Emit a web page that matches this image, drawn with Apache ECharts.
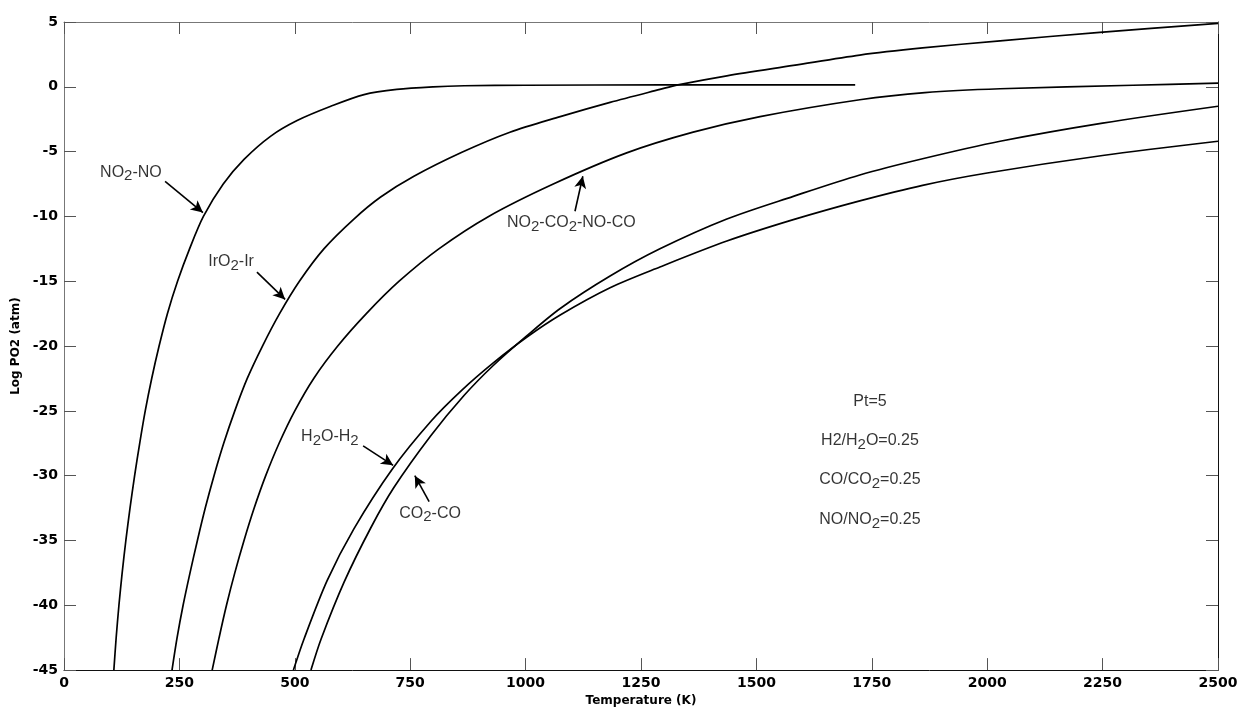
<!DOCTYPE html>
<html>
<head>
	<meta http-equiv="Content-Type" content="text/html; charset=utf-8" />
	<title>Log PO2</title>
	<script src="https://cdn.jsdelivr.net/npm/echarts@6/dist/echarts.min.js"></script>
</head>
<body style="padding: 0;margin: 0;background: #fff;">
<div id="main" style="width: 1247px;height:712px;"></div>

<script type="text/javascript">
	// curves: [temperature K, log PO2]
	var no2No = [[108,-45],[113,-42.5],[119,-40],[126,-37.5],[134,-35],[143,-32.5],[153,-30],[164,-27.5],[176,-25],[190,-22.5],[206,-20],[224,-17.5],[246,-15],[272,-12.5],[302,-10],[345,-7.5],[390,-5.6],[448,-3.8],[505,-2.6],[578,-1.5],[650,-0.6],[721,-0.2],[800,0],[867,0.08],[1000,0.12],[1300,0.15],[1714,0.15]];
	var iro2Ir = [[234,-45],[245,-42.5],[258,-40],[273,-37.5],[289,-35],[306,-32.5],[325,-30],[346,-27.5],[370,-25],[397,-22.5],[430,-20],[467,-17.5],[510,-15],[563,-12.5],[628,-10.2],[686,-8.5],[758,-6.9],[862,-5.05],[966,-3.5],[1075,-2.3],[1183,-1.2],[1291,-0.2],[1330,0.15],[1436,0.85],[1580,1.65],[1724,2.45],[1860,3.0],[2028,3.55],[2244,4.2],[2500,4.9]];
	var no2Co2NoCo = [[321,-45],[336,-42.5],[352,-40],[370,-37.5],[390,-35],[412,-32.5],[437,-30],[466,-27.5],[500,-25],[541,-22.5],[593,-20],[655,-17.5],[726,-15],[812,-12.5],[920,-10],[1060,-7.5],[1219,-5.1],[1363,-3.5],[1508,-2.3],[1724,-1.0],[1865,-0.45],[2028,-0.15],[2316,0.12],[2500,0.28]];
	var h2oH2 = [[497,-45],[520,-42.6],[570,-38.1],[628,-34.1],[711,-29.5],[795,-25.8],[862,-23.4],[930,-21.3],[1003,-19.3],[1075,-17.6],[1183,-15.5],[1291,-13.9],[1436,-11.9],[1580,-10.25],[1724,-8.8],[1860,-7.6],[2000,-6.65],[2250,-5.3],[2500,-4.2]];
	var co2Co = [[535,-45],[557,-42.6],[607,-38.2],[665,-34.0],[715,-30.9],[795,-26.9],[867,-23.8],[930,-21.5],[1003,-19.2],[1075,-17.1],[1183,-14.6],[1291,-12.5],[1436,-10.2],[1580,-8.45],[1724,-6.8],[1860,-5.55],[2028,-4.2],[2250,-2.8],[2500,-1.5]];

	// axis ticks
	var xTicks = { min: 0, max: 2500, step: 250 };
	var yTicks = { min: -45, max: 5, step: 5 };

	// text labels and the arrows pointing at the curves
	var labelText = ['NO{s|2}-NO', 'IrO{s|2}-Ir', 'NO{s|2}-CO{s|2}-NO-CO', 'H{s|2}O-H{s|2}', 'CO{s|2}-CO',
		'Pt=5', 'H2/H{s|2}O=0.25', 'CO/CO{s|2}=0.25', 'NO/NO{s|2}=0.25'];
	var labelAt = [[145,-6.6],[362,-13.5],[1099,-10.5],[576,-27.0],[793,-32.9],
		[1746,-24.3],[1746,-27.3],[1746,-30.3],[1746,-33.4]];
	var arrowFrom = [[219,-7.3],[418,-14.3],[1107,-9.6],[648,-27.7],[791,-32.0]];
	var arrowTo = [[301,-9.7],[479,-16.4],[1124,-6.9],[713,-29.2],[760,-30.0]];

	var myChart = echarts.init(document.getElementById('main'));

	var tickFont = { color: '#000', fontSize: 14, fontWeight: 'bold', fontFamily: 'DejaVu Sans' };
	var nameFont = { color: '#000', fontSize: 12, fontWeight: 'bold', fontFamily: 'DejaVu Sans' };

	function frameAxis(pos, range, lineColor, showLabel) {
		return {
			type: 'value',
			position: pos,
			min: range.min,
			max: range.max,
			interval: range.step,
			axisLine: { show: true, onZero: false, lineStyle: { color: lineColor, width: 1 } },
			axisTick: { show: true, inside: true, length: 12, lineStyle: { color: '#555', width: 1 } },
			axisLabel: showLabel ? Object.assign({
				show: true,
				margin: 6,
				formatter: function (v) { return String(v); }
			}, tickFont) : { show: false },
			splitLine: { show: false }
		};
	}

	var xBottom = frameAxis('bottom', xTicks, '#111', true);
	xBottom.name = 'Temperature (K)';
	xBottom.nameLocation = 'middle';
	xBottom.nameGap = 24;
	xBottom.nameTextStyle = nameFont;
	var xTop = frameAxis('top', xTicks, '#777', false);

	var yLeft = frameAxis('left', yTicks, '#777', true);
	yLeft.name = 'Log PO2 (atm)';
	yLeft.nameLocation = 'middle';
	yLeft.nameGap = 40;
	yLeft.nameTextStyle = nameFont;
	var yRight = frameAxis('right', yTicks, '#111', false);

	function curve(name, pts) {
		return {
			name: name,
			type: 'line',
			data: pts,
			xAxisIndex: 0,
			yAxisIndex: 0,
			showSymbol: false,
			smooth: 0.3,
			lineStyle: { color: '#000', width: 1.7 },
			silent: true
		};
	}

	var labels = [];
	for (var i = 0; i < labelText.length; i++) {
		labels.push({ value: labelAt[i], label: { formatter: labelText[i] } });
	}
	var arrows = [];
	for (var a = 0; a < arrowFrom.length; a++) {
		arrows.push([{ coord: arrowFrom[a] }, { coord: arrowTo[a] }]);
	}

	var option = {
		animation: false,
		backgroundColor: '#fff',
		grid: { left: 64, right: 29, top: 22, bottom: 40 },
		xAxis: [xBottom, xTop],
		yAxis: [yLeft, yRight],
		series: [
			curve('NO2-NO', no2No),
			curve('IrO2-Ir', iro2Ir),
			curve('NO2-CO2-NO-CO', no2Co2NoCo),
			curve('H2O-H2', h2oH2),
			curve('CO2-CO', co2Co),
			{
				name: 'notes',
				type: 'scatter',
				symbolSize: 0,
				silent: true,
				data: labels,
				label: {
					show: true,
					position: 'inside',
					color: '#000',
					fontSize: 16,
					fontFamily: 'Liberation Sans',
					rich: {
						s: { fontSize: 15, fontFamily: 'Liberation Sans', color: '#000', padding: [8, 0, 0, 0] }
					}
				},
				markLine: {
					silent: true,
					symbol: ['none', 'arrow'],
					symbolSize: [9, 12],
					label: { show: false },
					lineStyle: { color: '#000', width: 1.6, type: 'solid' },
					data: arrows
				}
			}
		]
	};
	myChart.setOption(option);
</script>
</body>
</html>
